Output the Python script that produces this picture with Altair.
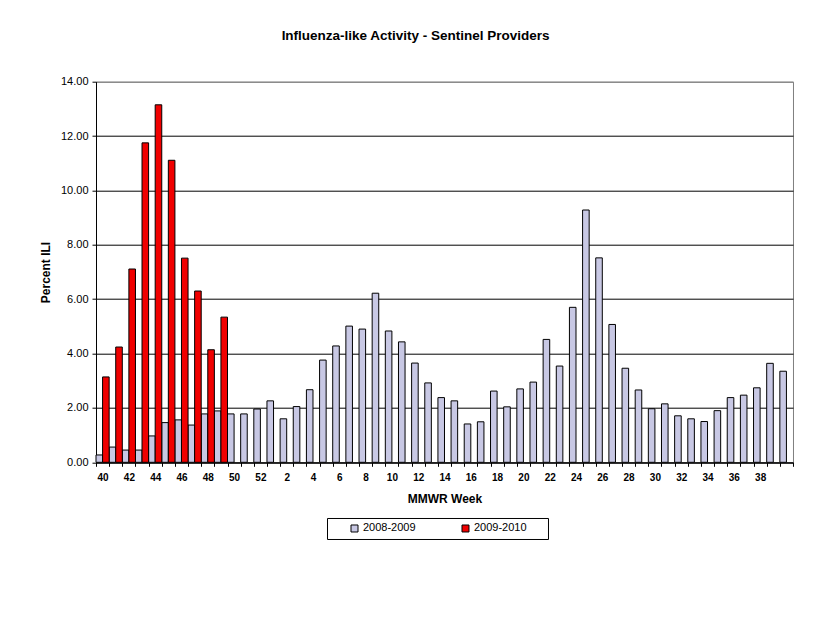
import altair as alt
import pandas as pd

# MMWR weeks shown on the category axis (week 40, 2008 through week 40, 2009)
weeks = [40, 41, 42, 43, 44, 45, 46, 47, 48, 49, 50, 51, 52,
         1, 2, 3, 4, 5, 6, 7, 8, 9, 10, 11, 12, 13, 14, 15, 16, 17, 18, 19,
         20, 21, 22, 23, 24, 25, 26, 27, 28, 29, 30, 31, 32, 33, 34, 35, 36,
         37, 38, 39, 40]

season_a = "2008-2009"
season_b = "2009-2010"

ili_0809 = [0.27, 0.56, 0.45, 0.45, 0.97, 1.46, 1.56, 1.37, 1.78, 1.89,
            1.78, 1.78, 1.96, 2.26, 1.60, 2.05, 2.67, 3.76, 4.28, 5.01,
            4.90, 6.22, 4.83, 4.43, 3.65, 2.92, 2.38, 2.26, 1.41, 1.49,
            2.62, 2.04, 2.70, 2.95, 4.52, 3.54, 5.70, 9.28, 7.52, 5.07,
            3.46, 2.66, 1.97, 2.15, 1.71, 1.60, 1.50, 1.90, 2.38, 2.47,
            2.74, 3.64, 3.35]

ili_0910 = [3.14, 4.24, 7.11, 11.75, 13.15, 11.11, 7.51, 6.30, 4.14, 5.34]

y_ticks = [0, 2, 4, 6, 8, 10, 12, 14]

rows = []
for i, v in enumerate(ili_0809):
    rows.append({"idx": i, "week": weeks[i], "season": season_a, "ili": v})
for i, v in enumerate(ili_0910):
    rows.append({"idx": i, "week": weeks[i], "season": season_b, "ili": v})
df = pd.DataFrame(rows)

label_list = "[" + ",".join("'" + str(w) + "'" for w in weeks) + "]"
label_expr = ("(datum.value % 2 == 0 && datum.value < " + str(len(weeks) - 1)
              + ") ? " + label_list + "[datum.value] : ''")

FONT = "Liberation Sans"

chart = alt.Chart(df).mark_bar(stroke="black", strokeWidth=1).encode(
    x=alt.X(
        "idx:O",
        scale=alt.Scale(domain=list(range(len(weeks))), paddingInner=0, paddingOuter=0),
        axis=alt.Axis(
            title="MMWR Week",
            labelExpr=label_expr,
            labelAngle=0,
            labelFont=FONT,
            labelFontSize=10,
            labelFontWeight="bold",
            labelColor="black",
            labelPadding=6,
            tickBand="extent",
            tickSize=4,
            tickColor="black",
            domainColor="black",
            titleFont=FONT,
            titleFontSize=12,
            titleFontWeight="bold",
            titleColor="black",
            titlePadding=11,
            labelOverlap=False,
        ),
    ),
    xOffset=alt.XOffset(
        "season:N",
        scale=alt.Scale(domain=[season_a, season_b], paddingInner=0, paddingOuter=0),
    ),
    y=alt.Y(
        "ili:Q",
        scale=alt.Scale(domain=[0, 14], nice=False),
        axis=alt.Axis(
            title="Percent ILI",
            values=y_ticks,
            format=".2f",
            labelFont=FONT,
            labelFontSize=11,
            labelColor="black",
            labelPadding=4,
            tickSize=4,
            tickColor="black",
            domainColor="black",
            grid=True,
            gridColor={"condition": {"test": "datum.value == 14", "value": "#808080"},
                       "value": "black"},
            gridWidth=1,
            titleFont=FONT,
            titleFontSize=12,
            titleFontWeight="bold",
            titleColor="black",
            titlePadding=8,
        ),
    ),
    color=alt.Color(
        "season:N",
        scale=alt.Scale(domain=[season_a, season_b], range=["#C8C8E4", "#F00000"]),
        legend=alt.Legend(
            orient="none",
            legendX=231,
            legendY=436.3,
            direction="horizontal",
            title=" ",
            titleOrient="right",
            titlePadding=16,
            titleFontSize=11,
            strokeColor="black",
            fillColor="white",
            padding=5,
            symbolType="square",
            symbolSize=49,
            symbolStrokeColor="black",
            symbolStrokeWidth=1,
            symbolOffset=17,
            labelOffset=3,
            columnPadding=27,
            labelFont=FONT,
            labelFontSize=11,
            labelColor="black",
        ),
    ),
).properties(
    width=697,
    height=380.6,
    background="white",
    title=alt.TitleParams(
        "Influenza-like Activity - Sentinel Providers",
        font=FONT,
        fontSize=13.5,
        fontWeight="bold",
        color="black",
        anchor="middle",
        frame="group",
        dx=-29,
        offset=33,
    ),
    padding={"left": 88, "top": 73.7, "right": 27, "bottom": 165},
    autosize=alt.AutoSizeParams(type="none"),
).configure_view(
    stroke="#808080",
    strokeWidth=1,
)

chart.save("out.html", embed_options={"renderer": "svg", "actions": False})
